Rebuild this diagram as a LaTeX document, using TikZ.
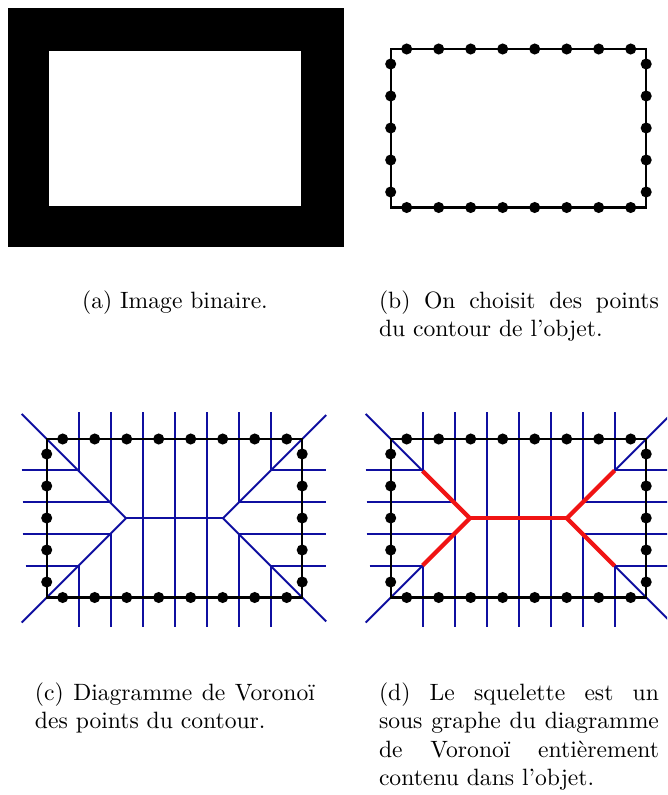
\documentclass[tikz,border=0pt]{standalone}
\usepackage{fontspec}
\definecolor{vblue}{RGB}{15,15,160}
\definecolor{skred}{RGB}{240,20,20}
\tikzset{
  vor/.style={draw=vblue, line width=0.85pt},
  contour/.style={draw=black, line width=0.9pt},
  skel/.style={draw=skred, line width=1.8pt, line join=round},
  dotfill/.style={fill=black},
  captext/.style={inner sep=0pt, outer sep=0pt, anchor=base west},
}
\newcommand{\contourdots}{%
  \draw[contour] (0,0) rectangle (255.5,158.5);
  \foreach \i in {0,...,7} {
    \fill[dotfill] (16+32*\i,0) circle[radius=2.35pt];
    \fill[dotfill] (16+32*\i,158.5) circle[radius=2.35pt];
  }
  \foreach \j in {0,...,4} {
    \fill[dotfill] (0,15+32*\j) circle[radius=2.35pt];
    \fill[dotfill] (255.5,15+32*\j) circle[radius=2.35pt];
  }
}
\newcommand{\voronoilines}{%
  % diagonals and central axis
  \draw[vor] (-25,-25) -- (79.25,79.25);
  \draw[vor] (-25,183.5) -- (79.25,79.25);
  \draw[vor] (79.25,79.25) -- (176.25,79.25);
  \draw[vor] (176.25,79.25) -- (279.5,-24);
  \draw[vor] (176.25,79.25) -- (279.5,182.5);
  % verticals
  \draw[vor] (32,-27) -- (32,32);   \draw[vor] (32,126.5) -- (32,187.5);
  \draw[vor] (64,-27) -- (64,64);   \draw[vor] (64,94.5) -- (64,187.5);
  \draw[vor] (96,-27) -- (96,187.5);
  \draw[vor] (128,-27) -- (128,187.5);
  \draw[vor] (160,-27) -- (160,187.5);
  \draw[vor] (192,-27) -- (192,63.5); \draw[vor] (192,95) -- (192,187.5);
  \draw[vor] (224,-27) -- (224,31.5); \draw[vor] (224,127) -- (224,187.5);
  % horizontals left
  \draw[vor] (-25,31) -- (31,31);
  \draw[vor] (-24,63) -- (63,63);
  \draw[vor] (-24,95) -- (63.5,95);
  \draw[vor] (-21,127) -- (31.5,127);
  % horizontals right
  \draw[vor] (224.5,31) -- (279.5,31);
  \draw[vor] (192.5,63) -- (279.5,63);
  \draw[vor] (192,95) -- (279.5,95);
  \draw[vor] (224,127) -- (279.5,127);
}
\begin{document}
\begin{tikzpicture}[x=0.4237pt, y=-0.4237pt]
  \useasboundingbox (0,0) rectangle (667,795);
  \clip (0,0) rectangle (667,795);
  \fill[white] (0,0) rectangle (667,795);

  % (a) binary image
  \fill[black] (7.5,7.5) rectangle (343.5,246.5);
  \fill[white] (48.5,50.5) rectangle (301,206);

  % (b) contour points
  \begin{scope}[shift={(390.7,49)}]
    \contourdots
  \end{scope}

  % (c) Voronoi diagram
  \begin{scope}[shift={(46.7,439)}]
    \voronoilines
    \contourdots
  \end{scope}

  % (d) skeleton
  \begin{scope}[shift={(390.7,439)}]
    \voronoilines
    \draw[skel] (32,32) -- (79.25,79.25) -- (32,126.5);
    \draw[skel] (79.25,79.25) -- (176.25,79.25);
    \draw[skel] (224,31.5) -- (176.25,79.25) -- (224,127);
    \contourdots
  \end{scope}

  % captions
  \node[captext, anchor=base] (capa) at (175,308.5) {(a) Image binaire.};
  \node[captext] (capb1) at (379,308.5) {\makebox[118.6pt][s]{(b) On choisit des points}};
  \node[captext] (capb2) at (379,336.8) {du contour de l'objet.};
  \node[captext] (capc1) at (35,700.5) {\makebox[118.6pt][s]{(c) Diagramme de Voronoï}};
  \node[captext] (capc2) at (35,728.8) {des points du contour.};
  \node[captext] (capd1) at (379,700.5) {\makebox[118.6pt][s]{(d) Le squelette est un}};
  \node[captext] (capd2) at (379,728.8) {\makebox[118.6pt][s]{sous graphe du diagramme}};
  \node[captext] (capd3) at (379,757.1) {\makebox[118.6pt][s]{de Voronoï entièrement}};
  \node[captext] (capd4) at (379,785.4) {contenu dans l'objet.};
\end{tikzpicture}
\end{document}
